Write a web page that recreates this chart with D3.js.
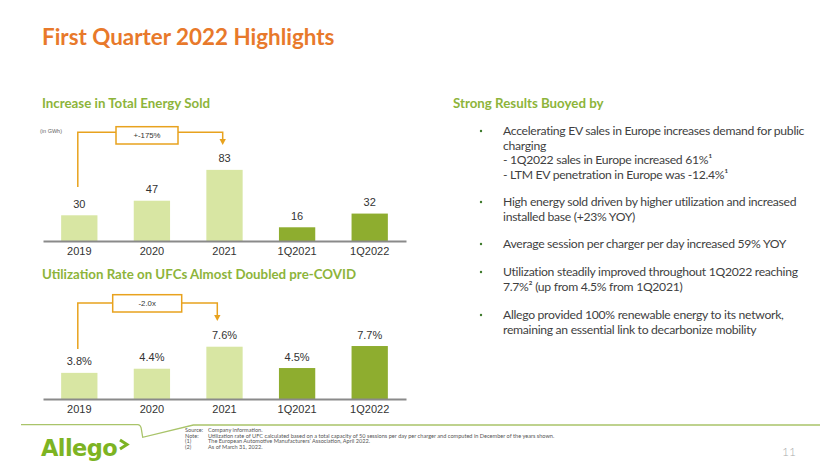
<!DOCTYPE html>
<html>
<head>
<meta charset="utf-8">
<script src="https://cdn.jsdelivr.net/npm/d3@7"></script>
<style>
    body { margin: 0; background: #fff; }
    svg { display: block; }
    .serif { font-family: Lato, "Open Sans", sans-serif; }
    .num { font-family: "Liberation Sans", Arial, sans-serif; }
</style>
</head>
<body>
<div id="slide"></div>
<script>
// chart data
const categories = ['2019', '2020', '2021', '1Q2021', '1Q2022'];
const quarterly = [false, false, false, true, true];
const energySold = [30, 47, 83, 16, 32];           // GWh
const energyLabels = ['30', '47', '83', '16', '32'];
const utilization = [3.8, 4.4, 7.6, 4.5, 7.7];      // %
const utilLabels = ['3.8%', '4.4%', '7.6%', '4.5%', '7.7%'];

const bullets = [
    ['Accelerating EV sales in Europe increases demand for public', 'charging', '- 1Q2022 sales in Europe increased 61%¹', '- LTM EV penetration in Europe was -12.4%¹'],
    ['High energy sold driven by higher utilization and increased', 'installed base (+23% YOY)'],
    ['Average session per charger per day increased 59% YOY'],
    ['Utilization steadily improved throughout 1Q2022 reaching', '7.7%² (up from 4.5% from 1Q2021)'],
    ['Allego provided 100% renewable energy to its network,', 'remaining an essential link to decarbonize mobility']
];
const footLabels = ['Source:', 'Note:', '(1)', '(2)'];
const footTexts = [
    'Company information.',
    'Utilization rate of UFC calculated based on a total capacity of 50 sessions per day per charger and computed in December of the years shown.',
    'The European Automotive Manufacturers\u2019 Association, April 2022.',
    ' As of March 31, 2022.'
];

const W = 840, H = 472;
const ORANGE = '#E8792B', GREEN = '#8DB43A', GOLD = '#E8A21E';
const LIGHT = '#D8E6A3', DARK = '#8EAD2F', TEXT = '#3F3F3F';

const svg = d3.select('#slide').append('svg')
    .attr('width', W)
    .attr('height', H);

svg.append('text')
    .attr('class', 'serif')
    .attr('x', 42).attr('y', 45)
    .style('font-size', '22.4px').style('font-weight', 700)
    .style('fill', ORANGE)
    .text('First Quarter 2022 Highlights');

const x = d3.scaleBand()
    .domain(categories)
    .range([43, 406])
    .paddingInner(0.5)
    .paddingOuter(0.25);

function barChart(opt) {
    const g = svg.append('g');
    const y = d3.scaleLinear().domain(opt.domain).range([opt.base, opt.top]);
    const rows = categories.map((c, i) => ({ c, v: opt.values[i], l: opt.labels[i], q: quarterly[i] }));

    g.append('text')
        .attr('class', 'serif')
        .attr('x', 42).attr('y', opt.titleY)
        .style('font-size', '13.3px').style('font-weight', 700)
        .style('fill', GREEN)
        .text(opt.title);

    g.selectAll('rect.bar')
        .data(rows)
        .enter().append('rect')
        .attr('class', 'bar')
        .attr('x', d => x(d.c))
        .attr('y', d => y(d.v))
        .attr('width', x.bandwidth())
        .attr('height', d => y(0) - y(d.v))
        .style('fill', d => d.q ? DARK : LIGHT);

    g.selectAll('text.val')
        .data(rows)
        .enter().append('text')
        .attr('class', 'val num')
        .attr('x', d => x(d.c) + x.bandwidth() / 2)
        .attr('y', d => y(d.v) - 7.5)
        .attr('text-anchor', 'middle')
        .style('font-size', '11px')
        .style('fill', '#333')
        .text(d => d.l);

    const axis = g.append('g')
        .attr('transform', 'translate(0,' + y(0) + ')')
        .call(d3.axisBottom(x).tickSize(0).tickPadding(6));
    axis.select('.domain').style('stroke', '#8a8a8a').style('stroke-width', 2);
    axis.selectAll('text')
        .attr('class', 'num')
        .style('font-size', '11px')
        .style('fill', '#333');

    // bracket showing growth 2019 -> 2021
    const b = opt.bracket;
    const x0 = x(b.from) + x.bandwidth() / 2 - 1.5;
    const x1 = b.toX;
    g.append('path')
        .attr('d', d3.line()([[x0, b.leftBottom], [x0, b.lineY], [x1, b.lineY], [x1, b.tip - 5]]))
        .style('fill', 'none')
        .style('stroke', GOLD)
        .style('stroke-width', 1.5);
    g.append('path')
        .attr('d', d3.line()([[x1 - 3.2, b.tip - 6], [x1 + 3.2, b.tip - 6], [x1, b.tip]]) + 'Z')
        .style('fill', GOLD);
    g.append('rect')
        .attr('x', b.box[0]).attr('y', b.box[1])
        .attr('width', b.box[2]).attr('height', b.box[3])
        .style('fill', '#fff')
        .style('stroke', GOLD)
        .style('stroke-width', 1.5);
    g.append('text')
        .attr('class', 'num')
        .attr('x', b.box[0] + b.box[2] / 2)
        .attr('y', b.box[1] + b.box[3] / 2 + 2.7)
        .attr('text-anchor', 'middle')
        .style('font-size', '7.8px')
        .style('fill', '#333')
        .text(b.label);
    return g;
}

const energy = barChart({
    title: 'Increase in Total Energy Sold', titleY: 108,
    values: energySold, labels: energyLabels,
    domain: [0, 100], base: 241, top: 155.3,
    bracket: { label: '+-175%', from: '2019', toX: 222.7, lineY: 132.3, leftBottom: 187, tip: 145,
               box: [116, 126.7, 62, 17.3] }
});
energy.append('text')
    .attr('class', 'num')
    .attr('x', 40).attr('y', 133)
    .style('font-size', '5.5px')
    .style('fill', '#666')
    .text('(in GWh)');

barChart({
    title: 'Utilization Rate on UFCs Almost Doubled pre-COVID', titleY: 279,
    values: utilization, labels: utilLabels,
    domain: [0, 10], base: 399, top: 330.2,
    bracket: { label: '-2.0x', from: '2019', toX: 217.3, lineY: 303, leftBottom: 349, tip: 321,
               box: [112.7, 294.7, 69, 17.3] }
});

// right column
svg.append('text')
    .attr('class', 'serif')
    .attr('x', 453).attr('y', 108)
    .style('font-size', '13.3px').style('font-weight', 700)
    .style('fill', GREEN)
    .text('Strong Results Buoyed by');

const groupTops = [135, 206, 248, 276, 319];
const LH = 14.6;
bullets.forEach((lines, i) => {
    svg.append('circle')
        .attr('cx', 481).attr('cy', groupTops[i] - 4)
        .attr('r', 1.2)
        .style('fill', '#3d7a2c');
    const t = svg.append('text')
        .attr('class', 'serif')
        .style('font-size', '12.2px')
        .style('letter-spacing', '-0.3px')
        .style('fill', TEXT);
    lines.forEach((ln, j) => {
        t.append('tspan')
            .attr('x', 503)
            .attr('y', groupTops[i] + j * LH)
            .text(ln);
    });
});

// footer
svg.append('path')
    .attr('d', 'M21,424.7 L138,424.7 Q141,425 141.5,430 L142.7,437.3 L193.3,425 L820,425')
    .style('fill', 'none')
    .style('stroke', '#A9C46A')
    .style('stroke-width', 1.3);

svg.append('text')
    .attr('x', 41).attr('y', 456)
    .style('font-family', '"DejaVu Sans", sans-serif')
    .style('font-size', '22.5px').style('font-weight', 700)
    .style('letter-spacing', '-0.6px')
    .style('fill', '#7DB423')
    .text('Allego');
svg.append('path')
    .attr('d', 'M120,440 L127,444.5 L120,449')
    .style('fill', 'none')
    .style('stroke', '#7DB423')
    .style('stroke-width', 3);

footLabels.forEach((l, i) => {
    const yy = 432 + i * 5.5;
    svg.append('text')
        .attr('class', 'serif')
        .attr('x', 185).attr('y', yy)
        .style('font-size', '5.6px').style('fill', '#555')
        .text(l);
    svg.append('text')
        .attr('class', 'serif')
        .attr('x', 208).attr('y', yy)
        .style('font-size', '5.6px').style('fill', '#555')
        .text(footTexts[i]);
});

svg.append('text')
    .attr('class', 'serif')
    .attr('x', 796).attr('y', 456)
    .attr('text-anchor', 'end')
    .style('font-size', '12px').style('font-weight', 300)
    .style('fill', '#aaa')
    .text('11');
</script>
</body>
</html>
